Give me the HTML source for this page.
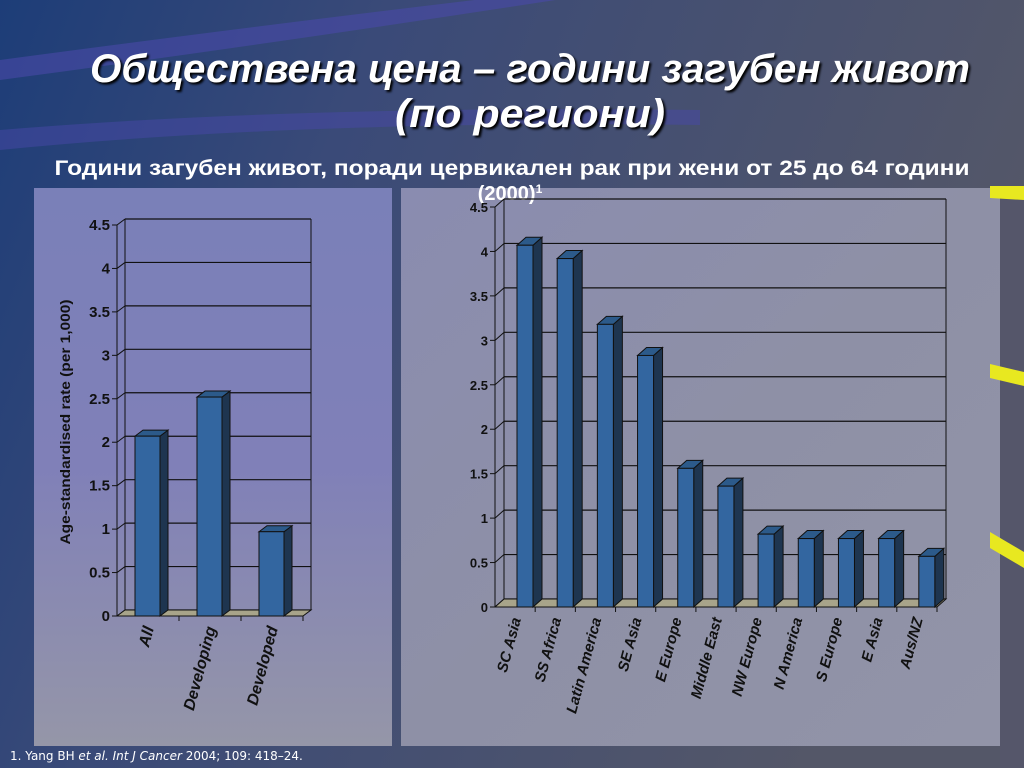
<!DOCTYPE html>
<html><head><meta charset="utf-8"><style>
html,body{margin:0;padding:0;width:1024px;height:768px;overflow:hidden;background:#4a4f6a}
svg{display:block}
</style></head><body>
<svg width="1024" height="768" viewBox="0 0 1024 768" xmlns="http://www.w3.org/2000/svg">
<defs>
<linearGradient id="bg" x1="0" y1="0" x2="1" y2="0.3"><stop offset="0" stop-color="#1d3d78"/><stop offset="0.35" stop-color="#3a4a78"/><stop offset="1" stop-color="#545768"/></linearGradient>
<linearGradient id="lp" x1="0" y1="0" x2="0" y2="1"><stop offset="0" stop-color="#7a80b8"/><stop offset="0.5" stop-color="#8080b8"/><stop offset="1" stop-color="#9596a8"/></linearGradient>
<linearGradient id="rp" x1="0" y1="0" x2="1" y2="1"><stop offset="0" stop-color="#8a8cb0"/><stop offset="0.5" stop-color="#8e90a6"/><stop offset="1" stop-color="#9294a8"/></linearGradient>
</defs>
<rect width="1024" height="768" fill="url(#bg)"/>
<path d="M0 60 Q300 20 560 -10 L620 -10 Q300 40 0 80Z" fill="#4a4aa8" opacity="0.6"/>
<path d="M0 130 Q300 105 700 110 L700 125 Q300 120 0 150Z" fill="#4848a8" opacity="0.5"/>
<rect x="34" y="188" width="358" height="558" fill="url(#lp)"/>
<rect x="401" y="188" width="599" height="558" fill="url(#rp)"/>
<rect x="1000" y="188" width="24" height="580" fill="#55566a"/>
<polygon points="990,186 1024,186 1024,200 990,198" fill="#e8e820"/>
<polygon points="990,364 1024,372 1024,386 990,378" fill="#e8e820"/>
<polygon points="990,532 1024,552 1024,568 990,548" fill="#e8e820"/>
<g font-family="'Liberation Sans','DejaVu Sans',sans-serif" fill="#fff" text-anchor="middle" font-weight="bold">
<text x="530" y="82" font-size="40" font-style="italic" textLength="880" lengthAdjust="spacingAndGlyphs" style="text-shadow:2px 2px 2px #000">Обществена цена – години загубен живот</text>
<text x="530" y="127" font-size="40" font-style="italic" textLength="270" lengthAdjust="spacingAndGlyphs" style="text-shadow:2px 2px 2px #000">(по региони)</text>
<text x="512" y="175" font-size="21" textLength="915" lengthAdjust="spacingAndGlyphs">Години загубен живот, поради цервикален рак при жени от 25 до 64 години</text>
<text x="510" y="200" font-size="20">(2000)<tspan font-size="12" dy="-7">1</tspan></text>
</g>
<text x="10" y="760" font-family="'DejaVu Sans','Liberation Sans',sans-serif" font-size="12" fill="#fff">1. Yang BH <tspan font-style="italic">et al. Int J Cancer</tspan> 2004; 109: 418–24.</text>
<g id="c1"></g><g id="c2"></g>
</svg>
<script>
const leftCategories=["All","Developing","Developed"];
const leftValues=[2.07,2.52,0.97];
const leftTicks=[0,0.5,1,1.5,2,2.5,3,3.5,4,4.5];
const rightCategories=["SC Asia","SS Africa","Latin America","SE Asia","E Europe","Middle East","NW Europe","N America","S Europe","E Asia","Aus/NZ"];
const rightValues=[4.07,3.92,3.18,2.83,1.56,1.36,0.82,0.77,0.77,0.77,0.57];
const rightTicks=[0,0.5,1,1.5,2,2.5,3,3.5,4,4.5];
const NS="http://www.w3.org/2000/svg";
function mk(p,t,a){const e=document.createElementNS(NS,t);for(const k in a)e.setAttribute(k,a[k]);p.appendChild(e);return e;}
function chart(g,cfg,cats,vals,ticks){
  const {x0,x1,y0,y1,max,dx,dy,bw,fs,lfs,off}=cfg;
  const Y=v=>y0-(v/max)*(y0-y1);
  const step=(x1-x0)/cats.length;
  ticks.forEach(t=>{
    const l=mk(g,'line',{x1:x0+dx,y1:Y(t)-dy,x2:x1+dx,y2:Y(t)-dy,stroke:'#111','stroke-width':1.2});
    
    
    mk(g,'line',{x1:x0,y1:Y(t),x2:x0+dx,y2:Y(t)-dy,stroke:'#111'});
    mk(g,'line',{x1:x0-5,y1:Y(t),x2:x0,y2:Y(t),stroke:'#111'});
    const tx=mk(g,'text',{x:x0-7,y:Y(t)+5,'text-anchor':'end','font-size':fs,'font-weight':'bold','font-family':"'Liberation Sans',sans-serif",fill:'#111'});
    tx.textContent=t;
    
    
  });
  mk(g,'line',{x1:x0+dx,y1:Y(max)-dy,x2:x0+dx,y2:y0-dy,stroke:'#111'});
  mk(g,'line',{x1:x1+dx,y1:Y(max)-dy,x2:x1+dx,y2:y0-dy,stroke:'#111'});
  mk(g,'line',{x1:x0,y1:Y(max),x2:x0,y2:y0,stroke:'#111'});
  const fl=mk(g,'polygon',{points:`${x0},${y0} ${x0+dx},${y0-dy} ${x1+dx},${y0-dy} ${x1},${y0}`,fill:'#a8a48a',stroke:'#111'});
  
  
  cats.forEach((c,i)=>{
    mk(g,'line',{x1:x0+step*(i+1),y1:y0,x2:x0+step*(i+1),y2:y0+5,stroke:'#111'});
    const v=vals[i];const bx=x0+step*i+off;const top=Y(v);
    const bar=mk(g,'g',{});
    
    
    mk(bar,'polygon',{points:`${bx+bw},${y0} ${bx+bw+dx},${y0-dy} ${bx+bw+dx},${top-dy} ${bx+bw},${top}`,fill:'#1e3550',stroke:'#111'});
    mk(bar,'polygon',{points:`${bx},${top} ${bx+dx},${top-dy} ${bx+bw+dx},${top-dy} ${bx+bw},${top}`,fill:'#2c5a8a',stroke:'#111'});
    mk(bar,'rect',{x:bx,y:top,width:bw,height:y0-top,fill:'#3366a0',stroke:'#111'});
    const cx=x0+step*(i+0.5)+6;
    const lt=mk(g,'text',{transform:`translate(${cx},${y0+12}) rotate(-75)`,'text-anchor':'end','font-size':lfs,'font-weight':'bold','font-style':'italic','font-family':"'Liberation Sans',sans-serif",fill:'#111'});
    lt.textContent=c;
    
    
  });
}
chart(document.getElementById('c1'),{x0:117,x1:303,y0:616,y1:225,max:4.5,dx:8,dy:6,bw:25,fs:15,lfs:16,off:18},leftCategories,leftValues,leftTicks);
chart(document.getElementById('c2'),{x0:495,x1:937,y0:607,y1:207,max:4.5,dx:9,dy:8,bw:16,fs:13,lfs:15,off:22},rightCategories,rightValues,rightTicks);
const yt=mk(document.getElementById('c1'),'text',{transform:'translate(70,422) rotate(-90)','text-anchor':'middle','font-size':14,'font-weight':'bold','font-family':"'Liberation Sans',sans-serif",fill:'#111',textLength:245,lengthAdjust:'spacingAndGlyphs'});
yt.textContent='Age-standardised rate (per 1,000)';


</script>
</body></html>
